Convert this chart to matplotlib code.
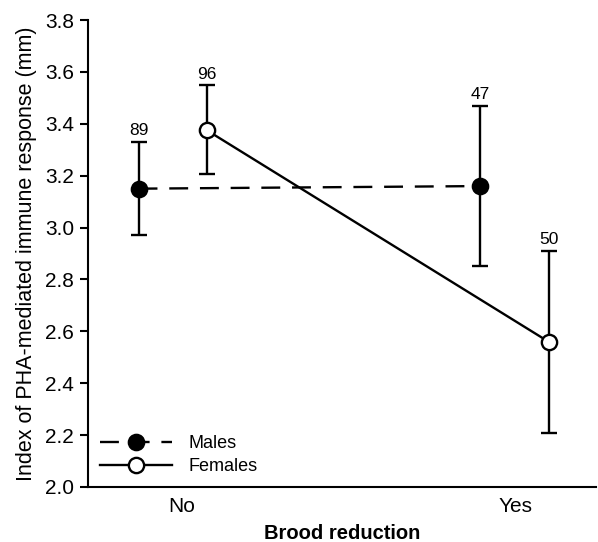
import matplotlib.pyplot as plt
from matplotlib.lines import Line2D
import numpy as np

plt.rcParams['font.family'] = ['Liberation Sans', 'DejaVu Sans']

categories = ["No", "Yes"]
males_offset = [-0.13, -0.105]
females_offset = [0.075, 0.10]
males_mean = [3.15, 3.16]
males_upper = [3.33, 3.47]
males_lower = [2.97, 2.85]
females_mean = [3.375, 2.56]
females_upper = [3.548, 2.91]
females_lower = [3.205, 2.21]
males_n = ["89", "47"]
females_n = ["96", "50"]


def main():
    fig = plt.figure(figsize=(5.98, 5.42), dpi=100)
    ax = fig.add_axes([0.147, 0.1015, 0.85, 0.8615])

    pos = np.arange(len(categories))
    males_x = pos + np.array(males_offset)
    females_x = pos + np.array(females_offset)

    m_mean = np.array(males_mean)
    f_mean = np.array(females_mean)
    m_err = [m_mean - np.array(males_lower), np.array(males_upper) - m_mean]
    f_err = [f_mean - np.array(females_lower), np.array(females_upper) - f_mean]

    dash = (0, (8, 5))
    lw = 1.7

    ax.errorbar(males_x, m_mean, yerr=m_err, fmt='o', color='black',
                ecolor='black', elinewidth=lw, capsize=5.5, capthick=lw,
                markersize=11, markerfacecolor='black', markeredgewidth=lw,
                linestyle=dash, linewidth=lw, zorder=3)
    ax.errorbar(females_x, f_mean, yerr=f_err, fmt='o', color='black',
                ecolor='black', elinewidth=lw, capsize=5.5, capthick=lw,
                markersize=11, markerfacecolor='white', markeredgewidth=lw,
                linestyle='-', linewidth=lw, zorder=3)

    for x, top, n in zip(males_x, males_upper, males_n):
        ax.text(x, top + 0.015, n, ha='center', va='bottom', fontsize=12.5)
    for x, top, n in zip(females_x, females_upper, females_n):
        ax.text(x, top + 0.015, n, ha='center', va='bottom', fontsize=12.5)

    ax.set_xlim(-0.282, 1.243)
    ax.set_ylim(2.0, 3.8)
    ax.set_yticks(np.arange(2.0, 3.81, 0.2))
    ax.set_yticklabels(["%.1f" % v for v in np.arange(2.0, 3.81, 0.2)])
    ax.set_xticks(pos)
    ax.set_xticklabels(categories)
    ax.tick_params(axis='y', direction='out', length=6, width=1.5, labelsize=15, pad=4)
    ax.tick_params(axis='x', length=0, labelsize=15, pad=7)

    for side in ['top', 'right']:
        ax.spines[side].set_visible(False)
    for side in ['left', 'bottom']:
        ax.spines[side].set_linewidth(1.5)

    ax.set_ylabel('Index of PHA-mediated immune response (mm)', fontsize=15.5, labelpad=6)
    ax.set_xlabel('Brood reduction', fontsize=14.5, fontweight='bold', labelpad=6)

    handles = [
        Line2D([], [], color='black', linestyle=dash, linewidth=lw, marker='o',
               markersize=11, markerfacecolor='black', markeredgewidth=lw),
        Line2D([], [], color='black', linestyle='-', linewidth=lw, marker='o',
               markersize=11, markerfacecolor='white', markeredgewidth=lw),
    ]
    ax.legend(handles, ['Males', 'Females'], loc='lower left',
              bbox_to_anchor=(0.0, 0.0), frameon=False,
              fontsize=13, handlelength=4.0, handletextpad=0.9,
              labelspacing=0.35, borderaxespad=0.25)

    fig.savefig("out.png", dpi=100)


if __name__ == "__main__":
    main()
